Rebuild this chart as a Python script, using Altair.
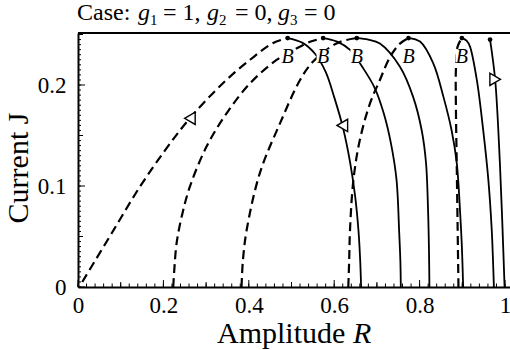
import altair as alt
import pandas as pd

SERIF = "Liberation Serif"
W, H = 432, 254
X_MAX = 1.0117
Y_MAX = 0.2515

# Unstable (dashed) branches: amplitude R and current J along each curve
dashed_R = [
    [0.010, 0.080, 0.145, 0.205, 0.262, 0.340, 0.403, 0.457, 0.491],
    [0.223, 0.226, 0.231, 0.243, 0.262, 0.301, 0.348, 0.403, 0.465, 0.512, 0.545, 0.574],
    [0.383, 0.386, 0.395, 0.426, 0.473, 0.520, 0.550, 0.600, 0.629, 0.653],
    [0.633, 0.635, 0.637, 0.645, 0.660, 0.684, 0.707, 0.731, 0.754, 0.774],
    [0.891, 0.889, 0.887, 0.885, 0.885, 0.889, 0.899],
]
dashed_J = [
    [0.005, 0.054, 0.0993, 0.136, 0.167, 0.202, 0.225, 0.2416, 0.2465],
    [0.000, 0.020, 0.0436, 0.070, 0.0993, 0.139, 0.172, 0.2017, 0.2248, 0.2363, 0.243, 0.2465],
    [0.000, 0.025, 0.0564, 0.113, 0.162, 0.205, 0.223, 0.240, 0.2446, 0.2465],
    [0.000, 0.025, 0.0564, 0.106, 0.1455, 0.182, 0.205, 0.228, 0.241, 0.2465],
    [0.000, 0.060, 0.120, 0.180, 0.215, 0.238, 0.2465],
]

# Stable (solid) branches
solid_R = [
    [0.491, 0.525, 0.555, 0.580, 0.600, 0.621, 0.637, 0.649, 0.657, 0.661, 0.663],
    [0.574, 0.607, 0.637, 0.668, 0.695, 0.716, 0.733, 0.746, 0.752, 0.755, 0.756],
    [0.653, 0.680, 0.707, 0.754, 0.785, 0.805, 0.815, 0.820, 0.822, 0.823],
    [0.774, 0.801, 0.832, 0.856, 0.875, 0.887, 0.895, 0.899, 0.902],
    [0.899, 0.910, 0.918, 0.934, 0.949, 0.961, 0.969, 0.972, 0.974],
    [0.965, 0.977, 0.988, 0.994, 0.999],
]
solid_J = [
    [0.2465, 0.242, 0.231, 0.213, 0.188, 0.157, 0.124, 0.090, 0.055, 0.025, 0.000],
    [0.2465, 0.243, 0.2347, 0.2165, 0.197, 0.172, 0.142, 0.106, 0.056, 0.025, 0.000],
    [0.2465, 0.245, 0.241, 0.218, 0.188, 0.155, 0.123, 0.073, 0.035, 0.000],
    [0.2465, 0.243, 0.2215, 0.188, 0.155, 0.123, 0.073, 0.040, 0.000],
    [0.2465, 0.244, 0.238, 0.205, 0.155, 0.106, 0.056, 0.025, 0.000],
    [0.245, 0.205, 0.123, 0.060, 0.000],
]

# Bifurcation points
bif_R = [0.491, 0.574, 0.653, 0.774, 0.899, 0.965]
bif_J = [0.2465, 0.2465, 0.2465, 0.2465, 0.2465, 0.245]
bif_text = ["B", "B", "B", "B", "B", ""]

# Direction arrows
left_arrow_R = [0.262, 0.619]
left_arrow_J = [0.167, 0.160]
right_arrow_R = [0.977]
right_arrow_J = [0.2056]

x_tick_labels = [0, 0.2, 0.4, 0.6, 0.8, 1.0]
y_tick_labels = [0, 0.1, 0.2]
x_minor = [i * 0.02 for i in range(51)]
x_mid = [0.1, 0.3, 0.5, 0.7, 0.9]
y_minor = [i * 0.005 for i in range(51)]
y_mid = [0.05, 0.15, 0.25]

# Title pieces: (text, left px, kind)
title_pieces = [
    ("Case:", -1, "normal"), ("g", 60, "italic"), ("1", 72, "sub"),
    ("= 1,", 85, "normal"), ("g", 129, "italic"), ("2", 141, "sub"),
    ("= 0,", 157, "normal"), ("g", 200, "italic"), ("3", 212, "sub"),
    ("= 0", 226, "normal"),
]


def curves(rs_list, js_list):
    rows = []
    for b, (rs, js) in enumerate(zip(rs_list, js_list)):
        for i, (r, j) in enumerate(zip(rs, js)):
            rows.append({"R": r, "J": j, "branch": b, "i": i})
    return pd.DataFrame(rows)


xs = alt.Scale(domain=[0, X_MAX], nice=False, zero=False)
ys = alt.Scale(domain=[0, Y_MAX], nice=False, zero=False)

x_axis = alt.Axis(values=x_tick_labels, format="~g", ticks=False, grid=False,
                  domain=True, domainWidth=2, domainColor="black", labelFont=SERIF,
                  labelFontSize=23, labelColor="black", labelPadding=7,
                  labelFlush=False, labelOverlap=False, title=None)
y_axis = alt.Axis(values=y_tick_labels, format="~g", ticks=False, grid=False,
                  domain=True, domainWidth=2, domainColor="black", labelFont=SERIF,
                  labelFontSize=23, labelColor="black", labelPadding=12,
                  labelFlush=False, labelOverlap=False, title=None)


def X(field="R"):
    return alt.X(f"{field}:Q", scale=xs, axis=x_axis)


def Y(field="J"):
    return alt.Y(f"{field}:Q", scale=ys, axis=y_axis)


dashed = alt.Chart(curves(dashed_R, dashed_J)).mark_line(
    color="black", strokeWidth=2.2, strokeDash=[9, 5], interpolate="catmull-rom"
).encode(x=X(), y=Y(), detail="branch:N", order="i:Q")

solid = alt.Chart(curves(solid_R, solid_J)).mark_line(
    color="black", strokeWidth=1.8, interpolate="catmull-rom"
).encode(x=X(), y=Y(), detail="branch:N", order="i:Q")

bif = pd.DataFrame({"R": bif_R, "J": bif_J, "t": bif_text})
bif_labelled = bif[bif["t"] != ""]

# white patch behind each B so the curves break around the letter
patches = alt.Chart(bif_labelled).mark_point(
    shape="square", filled=True, color="white", size=170, opacity=1,
    strokeWidth=0, yOffset=18
).encode(x=X(), y=Y())

b_text = alt.Chart(bif_labelled).mark_text(
    font=SERIF, fontSize=20, fontStyle="italic", color="black",
    baseline="alphabetic", align="center", dy=25
).encode(x=X(), y=Y(), text="t:N")

dots = alt.Chart(bif).mark_circle(size=22, color="black", opacity=1).encode(x=X(), y=Y())

arrows_left = alt.Chart(pd.DataFrame({"R": left_arrow_R, "J": left_arrow_J})).mark_point(
    shape="triangle-left", size=150, filled=True, fill="white", stroke="black",
    strokeWidth=1.4, opacity=1
).encode(x=X(), y=Y())

arrows_right = alt.Chart(pd.DataFrame({"R": right_arrow_R, "J": right_arrow_J})).mark_point(
    shape="triangle-right", size=150, filled=True, fill="white", stroke="black",
    strokeWidth=1.4, opacity=1
).encode(x=X(), y=Y())

one_row = pd.DataFrame({"a": [0]})

top_line = alt.Chart(one_row).mark_rule(color="black", strokeWidth=2).encode(
    x=alt.value(0), x2=alt.value(W), y=alt.value(0)
)


def x_ticks(vals, length):
    return alt.Chart(pd.DataFrame({"R": vals})).mark_rule(color="black", strokeWidth=1).encode(
        x=X(), y=alt.value(H), y2=alt.value(H - length)
    )


def y_ticks(vals, length):
    return alt.Chart(pd.DataFrame({"J": vals})).mark_rule(color="black", strokeWidth=1).encode(
        y=Y(), x=alt.value(0), x2=alt.value(length)
    )


ticks = [
    x_ticks(x_minor, 3.5), x_ticks(x_mid, 5), x_ticks(x_tick_labels, 7),
    y_ticks(y_minor, 3), y_ticks(y_mid, 5), y_ticks(y_tick_labels, 7),
]


def label(text, px, py, size, style="normal", align="left", angle=0):
    return alt.Chart(one_row).mark_text(
        text=text, font=SERIF, fontSize=size, fontStyle=style, color="black",
        align=align, baseline="alphabetic", angle=angle
    ).encode(x=alt.value(px), y=alt.value(py))


texts = []
for t, px, kind in title_pieces:
    if kind == "sub":
        texts.append(label(t, px, -8, 15))
    elif kind == "italic":
        texts.append(label(t, px, -13, 24, style="italic"))
    else:
        texts.append(label(t, px, -13, 24))

texts.append(label("Amplitude", 139, 310, 30))
texts.append(label("R", 275, 310, 30, style="italic"))
texts.append(label("Current J", -50, 135, 30, align="center", angle=270))

chart = alt.layer(
    dashed, solid, patches, b_text, dots, arrows_left, arrows_right, top_line,
    *ticks, *texts
).properties(
    width=W, height=H,
    padding={"left": 78, "top": 33, "right": 0, "bottom": 63},
    autosize=alt.AutoSizeParams(type="none"),
    background="white",
).configure_view(stroke=None)

chart.save("out.html", embed_options={"renderer": "svg", "actions": False})
